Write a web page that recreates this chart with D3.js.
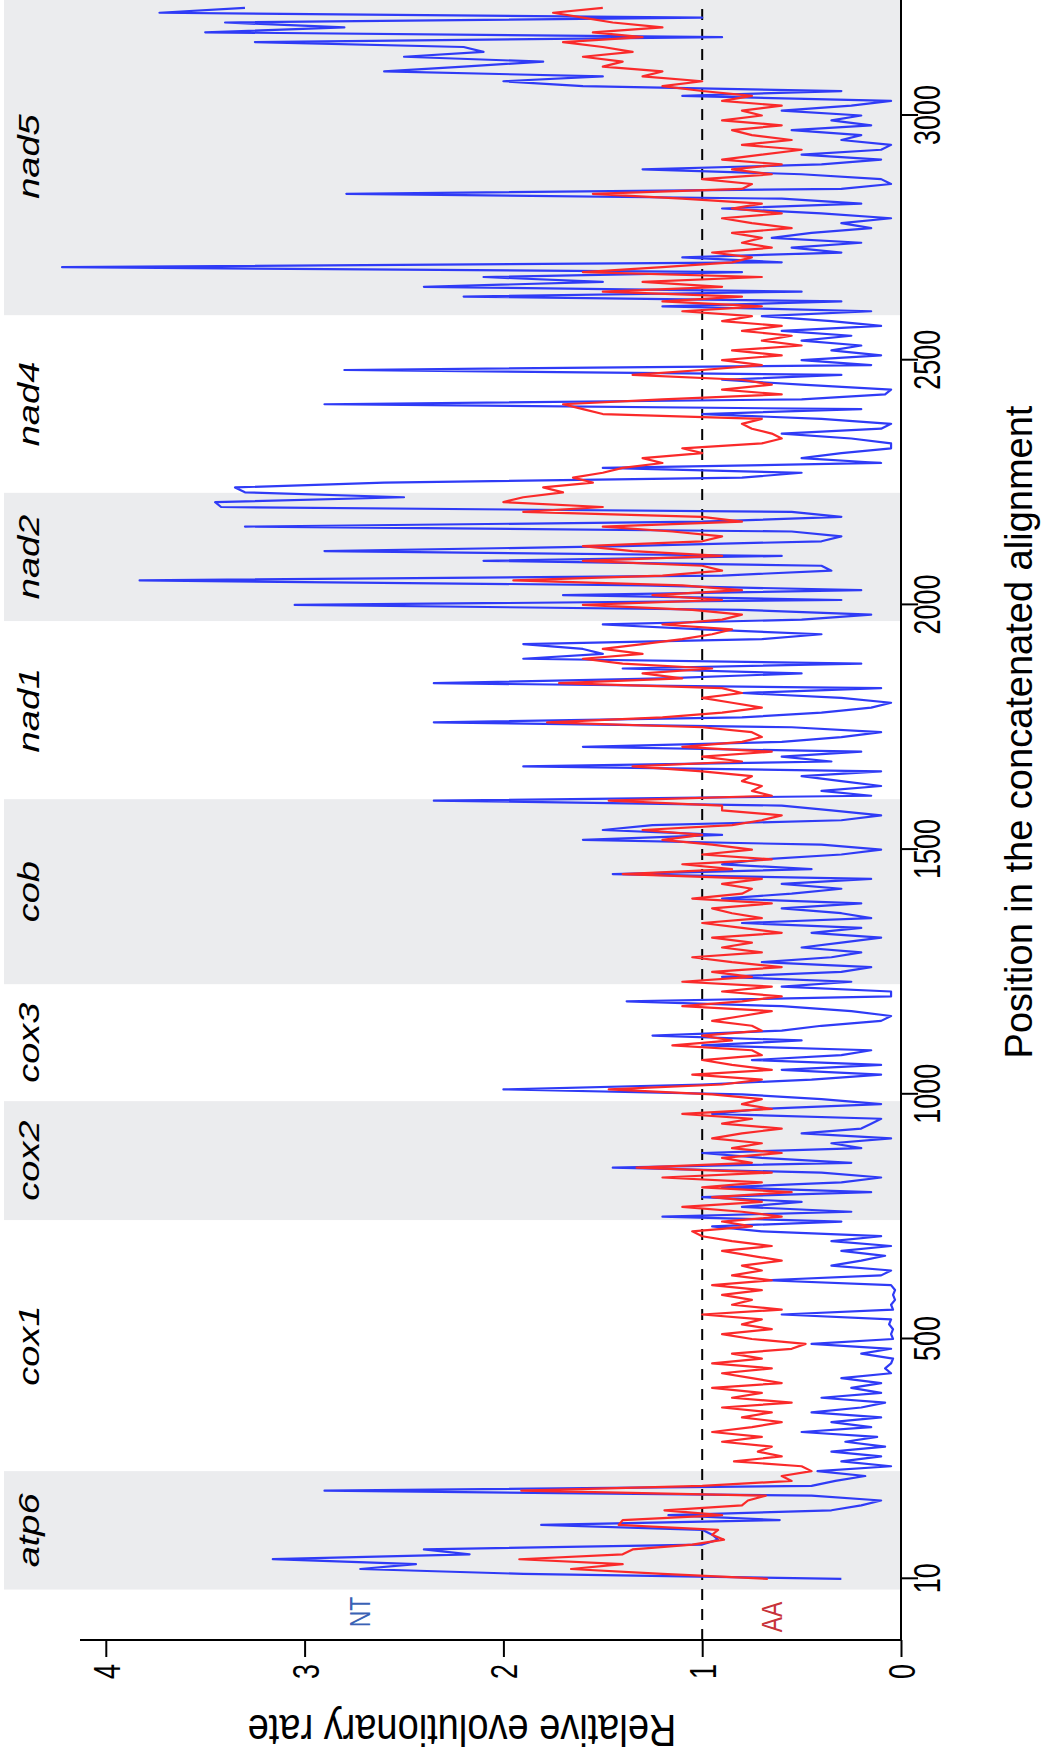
<!DOCTYPE html>
<html>
<head>
<meta charset="utf-8">
<script src="https://cdn.jsdelivr.net/npm/d3@7"></script>
<style>
  body { margin: 0; background: #fff; }
  svg text { font-family: "Liberation Sans", Arial, Helvetica, sans-serif; fill: #000; }
</style>
</head>
<body>
<div id="chart"></div>
<script>
// sliding window: first window centre and step along the alignment
const windowStart = 10;
const windowStep = 10;

// relative evolutionary rate, nucleotides (blue)
const ntRate = [
  0.3, 1.9, 2.72, 2.44, 3.16, 2.17, 2.4, 1.0, 0.92, 0.95,
  1.0, 1.81, 0.61, 1.17, 0.35, 0.2, 0.1, 0.45, 2.9, 0.45,
  0.33, 0.18, 0.42, 0.05, 0.3, 0.1, 0.35, 0.08, 0.28, 0.12,
  0.5, 0.15, 0.35, 0.1, 0.45, 0.2, 0.08, 0.4, 0.1, 0.25,
  0.1, 0.3, 0.05, 0.08, 0.05, 0.04, 0.2, 0.05, 0.45, 0.04,
  0.05, 0.04, 0.06, 0.05, 0.6, 0.04, 0.05, 0.03, 0.04, 0.03,
  0.05, 0.68, 0.1, 0.05, 0.35, 0.2, 0.08, 0.3, 0.05, 0.35,
  0.1, 0.7, 0.95, 0.3, 1.2, 0.25, 0.8, 0.5, 1.0, 0.15,
  0.9, 0.3, 0.1, 0.4, 1.45, 0.25, 0.7, 1.0, 0.2, 0.35,
  0.05, 0.5, 0.2, 0.15, 0.1, 0.95, 0.7, 0.1, 0.4, 0.8,
  2.0, 1.0, 0.45, 0.1, 0.6, 0.1, 0.75, 0.3, 0.15, 1.0,
  0.5, 1.25, 0.6, 0.4, 0.1, 0.05, 0.25, 0.6, 1.38, 0.05,
  0.05, 0.6, 0.25, 0.9, 0.3, 0.15, 0.7, 0.35, 0.2, 0.5,
  0.3, 0.1, 0.45, 0.2, 0.8, 0.15, 0.3, 0.6, 0.2, 0.9,
  0.55, 0.3, 0.6, 0.15, 1.45, 0.45, 0.9, 0.7, 0.3, 0.1,
  0.4, 1.6, 0.9, 1.5, 1.25, 0.3, 0.1, 0.35, 0.6, 2.35,
  0.15, 0.4, 0.1, 0.3, 0.5, 0.1, 1.9, 0.35, 0.6, 0.2,
  1.6, 0.6, 0.3, 0.1, 0.55, 2.35, 0.8, 0.4, 0.15, 0.05,
  0.3, 0.8, 0.1, 2.35, 1.2, 0.5, 1.4, 0.2, 1.9, 1.5,
  1.6, 1.9, 0.7, 0.4, 1.0, 1.5, 0.5, 0.15, 0.8, 3.05,
  0.3, 1.7, 0.2, 1.3, 3.83, 0.9, 0.35, 0.4, 2.1, 0.6,
  2.9, 1.4, 0.4, 0.3, 0.55, 3.3, 1.0, 0.3, 0.55, 3.42,
  3.45, 2.5, 3.3, 3.35, 2.6, 0.8, 0.5, 1.5, 0.1, 0.5,
  0.3, 0.05, 0.05, 0.25, 0.6, 0.1, 0.05, 0.4, 1.0, 0.2,
  2.9, 0.5, 0.08, 0.05, 0.5, 0.9, 0.3, 2.8, 0.15, 0.5,
  0.1, 0.35, 0.2, 0.5, 0.25, 0.6, 0.1, 0.35, 0.7, 0.15,
  1.2, 0.3, 2.2, 0.5, 2.4, 1.5, 2.1, 0.8, 4.22, 0.6,
  1.1, 0.3, 0.55, 0.2, 0.65, 0.45, 0.15, 0.3, 0.05, 0.4,
  0.9, 0.2, 0.6, 2.79, 0.3, 0.05, 0.1, 0.5, 1.3, 0.4,
  0.1, 0.5, 0.1, 0.05, 0.3, 0.2, 0.55, 0.15, 0.35, 0.2,
  0.6, 0.25, 0.05, 1.1, 0.3, 1.6, 2.0, 1.5, 2.6, 2.2,
  1.8, 2.5, 2.1, 2.2, 3.25, 0.9, 3.5, 2.8, 3.4, 1.0,
  3.73, 3.3
];

// relative evolutionary rate, amino acids (red)
const aaRate = [
  0.67, 1.2, 1.66, 1.4, 1.92, 1.4, 1.35, 1.05, 0.89, 0.95,
  0.92, 1.42, 1.4, 0.9, 1.19, 0.8, 0.77, 0.68, 1.91, 1.0,
  0.55, 0.6, 0.45, 0.5, 0.84, 0.6, 0.72, 0.65, 0.9, 0.7,
  0.95, 0.75, 0.6, 0.8, 0.65, 0.9, 0.55, 0.85, 0.7, 0.95,
  0.6, 0.75, 0.9, 0.65, 0.95, 0.7, 0.85, 0.55, 0.48, 0.75,
  0.9, 0.65, 0.8, 0.7, 1.0, 0.6, 0.85, 0.75, 0.9, 0.7,
  0.95, 0.65, 0.85, 0.7, 0.8, 0.6, 0.75, 0.9, 0.65, 0.85,
  1.0, 1.05, 0.75, 0.9, 0.6, 0.8, 1.1, 0.7, 0.95, 0.55,
  1.0, 0.7, 1.2, 0.65, 1.33, 0.75, 0.9, 0.6, 0.85, 0.7,
  0.95, 0.8, 0.6, 0.9, 0.75, 1.1, 0.65, 0.8, 0.7, 0.95,
  1.47, 0.9, 0.7, 1.05, 0.65, 0.85, 1.0, 0.7, 0.75, 1.15,
  0.85, 1.0, 0.7, 0.75, 0.95, 0.8, 0.65, 1.1, 0.8, 0.6,
  0.9, 0.65, 1.1, 0.75, 0.95, 0.6, 0.85, 1.05, 0.7, 0.9,
  0.75, 0.95, 0.6, 0.8, 1.0, 0.7, 0.85, 0.95, 0.65, 1.05,
  0.8, 0.75, 0.9, 0.7, 1.4, 0.85, 1.1, 0.65, 1.0, 0.75,
  0.95, 1.2, 1.0, 1.3, 0.85, 0.7, 0.6, 0.9, 0.9, 1.47,
  0.65, 0.75, 0.7, 0.8, 0.75, 1.0, 1.35, 0.8, 1.0, 0.65,
  1.1, 0.8, 0.7, 0.75, 1.0, 1.78, 1.2, 0.9, 0.7, 0.85,
  1.0, 0.8, 0.9, 1.72, 1.1, 1.3, 0.95, 1.4, 1.6, 1.3,
  1.5, 1.3, 1.1, 0.95, 0.85, 1.2, 0.9, 0.8, 1.05, 1.6,
  0.9, 1.25, 0.8, 1.1, 1.95, 1.2, 0.9, 1.0, 1.6, 0.9,
  1.35, 1.6, 1.0, 0.9, 1.15, 1.5, 0.8, 1.0, 1.9, 1.5,
  2.0, 1.9, 1.7, 1.8, 1.55, 1.65, 1.5, 1.4, 1.2, 1.3,
  1.0, 1.1, 0.7, 0.6, 0.65, 0.75, 0.8, 0.7, 1.5, 1.6,
  1.7, 1.2, 0.6, 0.9, 0.65, 0.8, 1.35, 1.0, 0.7, 0.9,
  0.6, 0.85, 0.5, 0.7, 0.55, 0.8, 0.6, 0.9, 0.75, 1.1,
  0.7, 1.2, 0.8, 1.5, 0.9, 1.3, 0.7, 1.6, 1.2, 0.85,
  0.75, 0.95, 0.65, 0.8, 0.7, 0.85, 0.55, 0.75, 0.9, 0.6,
  0.85, 0.7, 1.1, 1.55, 0.8, 0.75, 1.0, 0.65, 0.85, 0.6,
  0.9, 0.7, 0.5, 0.8, 0.55, 0.75, 0.85, 0.6, 0.9, 0.7,
  0.8, 0.6, 0.9, 0.75, 1.0, 1.2, 1.0, 1.3, 1.2, 1.5,
  1.4, 1.6, 1.35, 1.5, 1.7, 1.3, 1.55, 1.2, 1.45, 1.6,
  1.75, 1.5
];

// genes in the concatenated alignment
const genes = ["atp6", "cox1", "cox2", "cox3", "cob", "nad1", "nad2", "nad4", "nad5"];
const geneStart = [-12, 230, 743, 986, 1225, 1603, 1967, 2229, 2592];
const geneEnd = [230, 743, 986, 1225, 1603, 1967, 2229, 2592, 3240];

const positionTicks = [10, 500, 1000, 1500, 2000, 2500, 3000];
const rateTicks = [0, 1, 2, 3, 4];

const positions = ntRate.map((d, i) => windowStart + i * windowStep);

const pageW = 1044, pageH = 1753;

const svg = d3.select("#chart").append("svg")
	.attr("width", pageW)
	.attr("height", pageH);

// the plot is laid out landscape (position along x) and then
// turned a quarter turn counter-clockwise onto the portrait page
const chart = svg.append("g")
	.attr("transform", "translate(0," + pageH + ") rotate(-90)");

const x = d3.scaleLinear().domain([10, 3000]).range([174.2, 1637.5]);
const y = d3.scaleLinear().domain([0, 4]).range([901, 105.8]);
const plotLeft = 113, plotTop = 4, plotBottom = y(0);

// gene bands
chart.append("g").selectAll("rect")
	.data(genes.filter((g, i) => i % 2 === 0))
	.enter()
	.append("rect")
	.attr("x", g => x(geneStart[genes.indexOf(g)]))
	.attr("width", g => x(geneEnd[genes.indexOf(g)]) - x(geneStart[genes.indexOf(g)]))
	.attr("y", plotTop)
	.attr("height", plotBottom - plotTop)
	.attr("fill", "#ebecee");

// gene names
chart.append("g").selectAll("text")
	.data(genes)
	.enter()
	.append("text")
	.attr("transform", (g, i) => "translate(" + x((geneStart[i] + geneEnd[i]) / 2) + ",39) scale(1,0.8)")
	.attr("text-anchor", "middle")
	.style("font-size", "38px")
	.style("font-style", "italic")
	.text(g => g);

// reference line at rate 1
chart.append("line")
	.attr("x1", plotLeft)
	.attr("x2", 1760)
	.attr("y1", y(1))
	.attr("y2", y(1))
	.attr("stroke", "#000")
	.attr("stroke-width", 2)
	.attr("stroke-dasharray", "11,9");

const line = d3.line()
	.x((d, i) => x(positions[i]))
	.y(d => y(d));

chart.append("path")
	.datum(ntRate)
	.attr("d", line)
	.attr("fill", "none")
	.attr("stroke", "#2f3bf6")
	.attr("stroke-width", 2.2)
	.attr("stroke-linejoin", "round");

chart.append("path")
	.datum(aaRate)
	.attr("d", line)
	.attr("fill", "none")
	.attr("stroke", "#fa2a2a")
	.attr("stroke-width", 2.2)
	.attr("stroke-linejoin", "round");

// position axis
const xAxisGroup = chart.append("g")
	.attr("transform", "translate(0," + plotBottom + ")")
	.call(d3.axisBottom(x).tickValues(positionTicks).tickFormat(d3.format("d")).tickSize(17).tickSizeOuter(0));
xAxisGroup.select(".domain").remove();
xAxisGroup.selectAll("line").attr("stroke-width", 2);
xAxisGroup.selectAll("text")
	.attr("y", null)
	.attr("dy", null)
	.attr("transform", "translate(0,39) scale(1,1.4)")
	.style("font-size", "27px");
chart.append("line")
	.attr("x1", plotLeft).attr("x2", 1760)
	.attr("y1", plotBottom).attr("y2", plotBottom)
	.attr("stroke", "#000").attr("stroke-width", 2);

// rate axis
const yAxisGroup = chart.append("g")
	.attr("transform", "translate(" + plotLeft + ",0)")
	.call(d3.axisLeft(y).tickValues(rateTicks).tickFormat(d3.format("d")).tickSize(17).tickSizeOuter(0));
yAxisGroup.select(".domain").remove();
yAxisGroup.selectAll("line").attr("stroke-width", 2);
yAxisGroup.selectAll("text")
	.attr("x", null)
	.attr("dy", null)
	.attr("transform", "translate(-24," + (0.358 * 27 * 1.4) + ") scale(1,1.4)")
	.style("font-size", "27px");
chart.append("line")
	.attr("x1", plotLeft).attr("x2", plotLeft)
	.attr("y1", plotBottom).attr("y2", 80)
	.attr("stroke", "#000").attr("stroke-width", 2);

// axis titles
chart.append("text")
	.attr("transform", "translate(1021,1032)")
	.attr("text-anchor", "middle")
	.style("font-size", "38px")
	.text("Position in the concatenated alignment");

chart.append("text")
	.attr("transform", "translate(38,462) rotate(-90) scale(1,1.15)")
	.attr("text-anchor", "middle")
	.style("font-size", "38px")
	.text("Relative evolutionary rate");

// series labels
chart.append("text")
	.attr("transform", "translate(141,370) scale(1,1.3)")
	.attr("text-anchor", "middle")
	.style("font-size", "23px")
	.style("fill", "#3a62b5")
	.text("NT");

chart.append("text")
	.attr("transform", "translate(136,782) scale(1,1.3)")
	.attr("text-anchor", "middle")
	.style("font-size", "23px")
	.style("fill", "#c8333a")
	.text("AA");
</script>
</body>
</html>
